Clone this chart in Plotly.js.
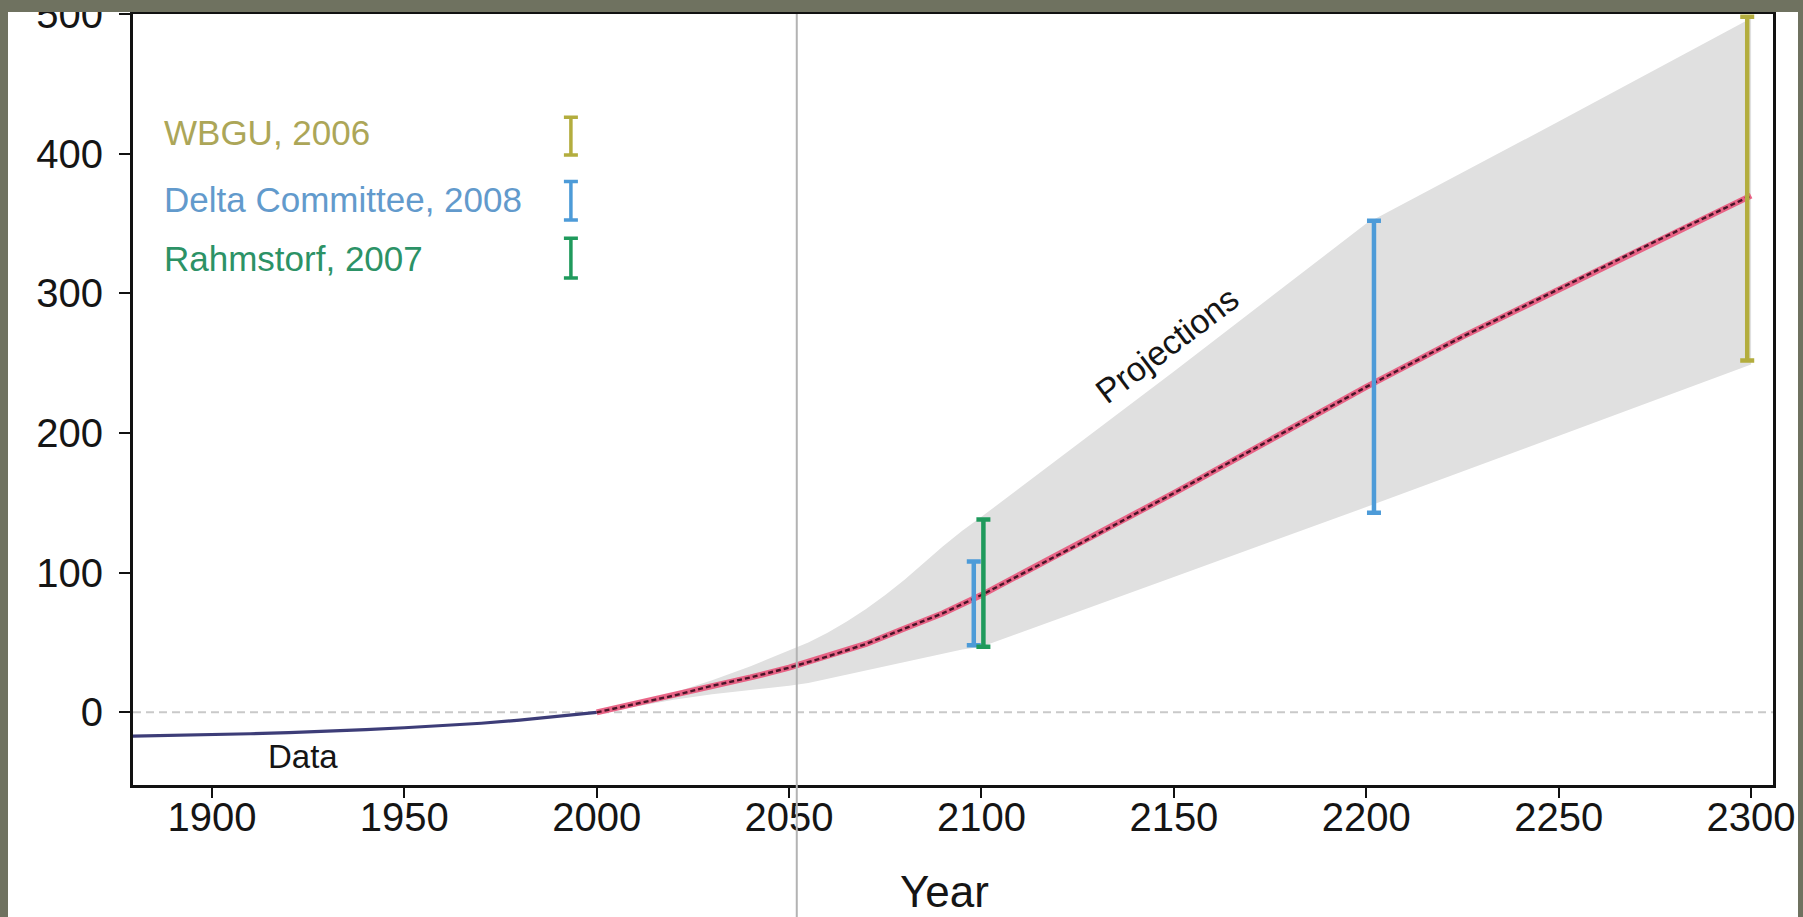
<!DOCTYPE html>
<html>
<head>
<meta charset="utf-8">
<script src="https://cdn.plot.ly/plotly-3.0.1.min.js"></script>
<style>html,body{margin:0;padding:0;background:#fff;}#chart{width:1803px;height:917px;}</style>
</head>
<body>
<div id="chart"></div>
<script>
// ---- Observed sea level (data) ----
const dataYears = [1879, 1890, 1900, 1910, 1920, 1930, 1940, 1950, 1960, 1970, 1980, 1990, 2000];
const dataLevel = [-17, -16.5, -16, -15.3, -14.5, -13.6, -12.4, -11, -9.6, -7.8, -5.6, -3, 0];

// ---- Projections: central estimate ----
const projYears = [2000, 2010, 2020, 2030, 2040, 2050, 2060, 2070, 2080, 2090, 2100, 2125, 2150, 2175, 2200, 2225, 2250, 2275, 2300];
const projMid   = [0, 6, 12, 19, 25, 32, 40, 49, 60, 71, 84, 120, 157, 195, 233, 269, 303, 337, 370];

// ---- Projections: range ----
const bandYears = [2000, 2010, 2020, 2030, 2040, 2050, 2055, 2060, 2065, 2070, 2075, 2080, 2085, 2090, 2095, 2100, 2150, 2200, 2250, 2300];
const bandHigh  = [1, 6, 14, 23, 33, 44, 50, 57, 65, 74, 84, 95, 107, 119, 130, 140, 244, 350, 423, 497];
const bandLow   = [0, 4, 9, 13, 16, 19, 21, 24, 27, 30, 33, 36, 39, 42, 45, 47, 97, 147, 198, 249];

// ---- Published ranges ----
const studyNames  = ['WBGU, 2006', 'Delta Committee, 2008', 'Rahmstorf, 2007'];
const wbguYears   = [2299];
const wbguLow     = [252];
const wbguHigh    = [498];
const deltaYears  = [2098, 2202];
const deltaLow    = [48, 143];
const deltaHigh   = [108, 352];
const rahmYears   = [2100.5];
const rahmLow     = [47];
const rahmHigh    = [138];
// legend key bars
const keyYear     = 1993.3;
const keyLow      = [399, 352.5, 311];
const keyHigh     = [426, 380, 339.5];

// ---- Axis ticks ----
const xTicks = [1900, 1950, 2000, 2050, 2100, 2150, 2200, 2250, 2300];
const yTicks = [0, 100, 200, 300, 400, 500];
const refYear = 2052;

const olive = '#b3ad3e', blue = '#4d9bd8', green = '#1f9a5c';
const textOlive = '#aca658', textBlue = '#629acc', textGreen = '#2c9266';
const FONT = 'Liberation Sans, Arial, Helvetica, sans-serif';

function mid(lo, hi) { return lo.map((v, i) => (v + hi[i]) / 2); }
function half(lo, hi) { return lo.map((v, i) => (hi[i] - v) / 2); }

function rangeTrace(xs, lo, hi, color, thick, capw) {
  return {
    x: xs, y: mid(lo, hi), type: 'scatter', mode: 'markers',
    marker: {size: 1, color: 'rgba(0,0,0,0)'},
    error_y: {type: 'data', symmetric: true, array: half(lo, hi), color: color, thickness: thick, width: capw},
    hoverinfo: 'skip', showlegend: false
  };
}

const traces = [
  // projection range band
  {
    x: bandYears.concat(bandYears.slice().reverse()),
    y: bandHigh.concat(bandLow.slice().reverse()),
    type: 'scatter', mode: 'lines', fill: 'toself',
    fillcolor: '#e0e0e0', line: {width: 0, color: 'rgba(0,0,0,0)'},
    hoverinfo: 'skip', showlegend: false
  },
  // observed data
  {
    x: dataYears, y: dataLevel, type: 'scatter', mode: 'lines',
    line: {color: '#3d3d78', width: 3.2}, showlegend: false
  },
  // central projection: red line
  {
    x: projYears, y: projMid, type: 'scatter', mode: 'lines',
    line: {color: '#e8557b', width: 6}, opacity: 0.9, showlegend: false
  },
  // central projection: dark dashes
  {
    x: projYears, y: projMid, type: 'scatter', mode: 'lines',
    line: {color: '#4a1428', width: 2.4, dash: '5px,3px'}, showlegend: false
  },
  rangeTrace(deltaYears, deltaLow, deltaHigh, blue, 4.5, 7),
  rangeTrace(rahmYears, rahmLow, rahmHigh, green, 4.5, 7),
  rangeTrace(wbguYears, wbguLow, wbguHigh, olive, 4.5, 7),
  rangeTrace([keyYear], [keyLow[0]], [keyHigh[0]], olive, 3.5, 7),
  rangeTrace([keyYear], [keyLow[1]], [keyHigh[1]], blue, 3.5, 7),
  rangeTrace([keyYear], [keyLow[2]], [keyHigh[2]], green, 3.5, 7)
];

// pixel -> paper helpers (plot area: x 133..1773, y 14..785)
const L = 133, R = 30, T = 14, B = 132, W = 1803, H = 917;
const pw = W - L - R, ph = H - T - B;
const px = v => (v - L) / pw;
const py = v => (H - B - v) / ph;
const frame = '#6f7260';

const layout = {
  width: W, height: H,
  margin: {l: L, r: R, t: T, b: B, pad: 0},
  paper_bgcolor: '#ffffff', plot_bgcolor: '#ffffff',
  font: {family: FONT, color: '#151515'},
  showlegend: false,
  xaxis: {
    range: [1879.5, 2305.7], tickvals: xTicks, ticktext: xTicks.map(String),
    ticks: 'outside', ticklen: 10, tickwidth: 2, tickcolor: '#111',
    showline: true, linewidth: 3, linecolor: '#111', mirror: true,
    showgrid: false, zeroline: false,
    tickfont: {size: 40, family: FONT, color: '#151515'},
    ticklabelstandoff: -15, ticklabeloverflow: 'allow'
  },
  yaxis: {
    range: [-52, 500], tickvals: yTicks, ticktext: yTicks.map(String),
    ticks: 'outside', ticklen: 11, tickwidth: 2, tickcolor: '#111',
    showline: true, linewidth: 3, linecolor: '#111', mirror: true,
    showgrid: false, zeroline: false,
    tickfont: {size: 40, family: FONT, color: '#151515'},
    ticklabelstandoff: 8, ticklabeloverflow: 'allow'
  },
  shapes: [
    // zero reference (dashed)
    {type: 'line', xref: 'paper', yref: 'y', x0: 0, x1: 1, y0: 0, y1: 0,
     line: {color: '#c9c9c9', width: 2, dash: '8px,5px'}, layer: 'below'},
    // vertical reference line
    {type: 'line', xref: 'x', yref: 'paper', x0: refYear, x1: refYear, y0: py(H), y1: 1,
     line: {color: '#b3b3b3', width: 2}, layer: 'above'},
    // slide frame strips (crop)
    {type: 'rect', xref: 'paper', yref: 'paper', x0: px(0), x1: px(W), y0: py(12), y1: py(0),
     fillcolor: frame, line: {width: 0}, layer: 'above'},
    {type: 'rect', xref: 'paper', yref: 'paper', x0: px(0), x1: px(8), y0: py(H), y1: py(0),
     fillcolor: frame, line: {width: 0}, layer: 'above'},
    {type: 'rect', xref: 'paper', yref: 'paper', x0: px(1798), x1: px(W), y0: py(H), y1: py(0),
     fillcolor: frame, line: {width: 0}, layer: 'above'}
  ],
  annotations: [
    // x-axis title
    {xref: 'paper', yref: 'paper', x: px(944), y: py(891), xanchor: 'center', yanchor: 'middle', showarrow: false,
     text: 'Year', font: {size: 44, family: FONT, color: '#151515'}},
    {xref: 'paper', yref: 'y', x: px(162), y: 415, xanchor: 'left', yanchor: 'middle', showarrow: false,
     text: studyNames[0], font: {size: 35, family: FONT, color: textOlive}},
    {xref: 'paper', yref: 'y', x: px(162), y: 367, xanchor: 'left', yanchor: 'middle', showarrow: false,
     text: studyNames[1], font: {size: 35, family: FONT, color: textBlue}},
    {xref: 'paper', yref: 'y', x: px(162), y: 325, xanchor: 'left', yanchor: 'middle', showarrow: false,
     text: studyNames[2], font: {size: 35, family: FONT, color: textGreen}},
    {xref: 'x', yref: 'y', x: 1923.8, y: -31.5, showarrow: false, xanchor: 'center', yanchor: 'middle',
     text: 'Data', font: {size: 33, family: FONT, color: '#151515'}},
    {xref: 'x', yref: 'y', x: 2148.2, y: 263, showarrow: false, xanchor: 'center', yanchor: 'middle',
     textangle: -37, text: 'Projections', font: {size: 34, family: FONT, color: '#151515'}}
  ]
};

Plotly.newPlot('chart', traces, layout, {displayModeBar: false, staticPlot: true});
</script>
</body>
</html>
